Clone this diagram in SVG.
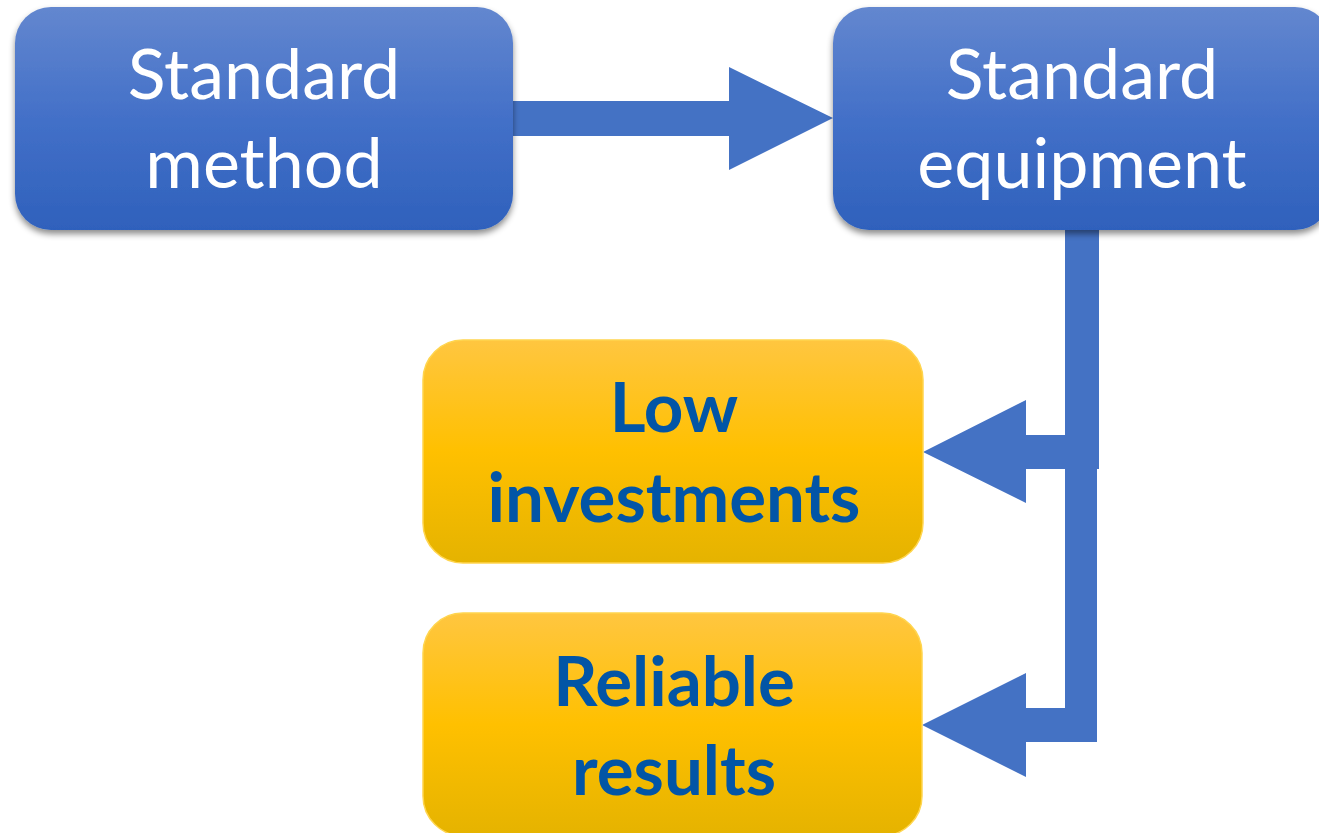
<svg xmlns="http://www.w3.org/2000/svg" width="1319" height="833" viewBox="0 0 1319 833">
<defs>
<linearGradient id="gBlue" x1="0" y1="0" x2="0" y2="1">
<stop offset="0" stop-color="#6387CF"/>
<stop offset="0.5" stop-color="#4370C8"/>
<stop offset="1" stop-color="#2F61BC"/>
</linearGradient>
<linearGradient id="gYel" x1="0" y1="0" x2="0" y2="1">
<stop offset="0" stop-color="#FFC640"/>
<stop offset="0.5" stop-color="#FFC000"/>
<stop offset="1" stop-color="#E5B300"/>
</linearGradient>
<filter id="sh" x="-10%" y="-10%" width="120%" height="130%">
<feDropShadow dx="0" dy="4" stdDeviation="3" flood-color="#000" flood-opacity="0.45"/>
</filter>
</defs>
<style>
.blue{fill:url(#gBlue);filter:url(#sh)}
.yel{fill:url(#gYel);stroke:#FFD54F;stroke-width:1.5}
.wt{font-family:Lato,"Open Sans",sans-serif;font-size:70px;fill:#FFFFFF;text-anchor:middle}
.bt{font-family:Lato,"Open Sans",sans-serif;font-size:69px;font-weight:bold;fill:#0255A6;text-anchor:middle}
.conn{fill:#4472C4}
</style>
<g id="connectors">
<polygon class="conn" points="513,101 729,101 729,67 833,118 729,170 729,136 513,136"/>
<polygon class="conn" points="1065,225 1099,225 1099,469 1026,469 1026,503 923,452 1026,400 1026,435 1065,435"/>
<polygon class="conn" points="1065,225 1097,225 1097,742 1026,742 1026,777 922,725 1026,673 1026,708 1065,708"/>
</g>
<g id="node-standard-method">
<rect class="blue" x="15" y="7" width="498" height="223" rx="36"/>
<text class="wt" x="264" y="99">Standard</text>
<text class="wt" x="264" y="188">method</text>
</g>
<g id="node-standard-equipment">
<rect class="blue" x="833" y="7" width="498" height="223" rx="36"/>
<text class="wt" x="1082" y="99">Standard</text>
<text class="wt" x="1082" y="188">equipment</text>
</g>
<g id="node-low-investments">
<rect class="yel" x="423" y="340" width="500" height="223" rx="40"/>
<text class="bt" x="674" y="432">Low</text>
<text class="bt" x="674" y="522">investments</text>
</g>
<g id="node-reliable-results">
<rect class="yel" x="423" y="613" width="499" height="223" rx="40"/>
<text class="bt" x="674" y="706">Reliable</text>
<text class="bt" x="674" y="795">results</text>
</g>
</svg>
